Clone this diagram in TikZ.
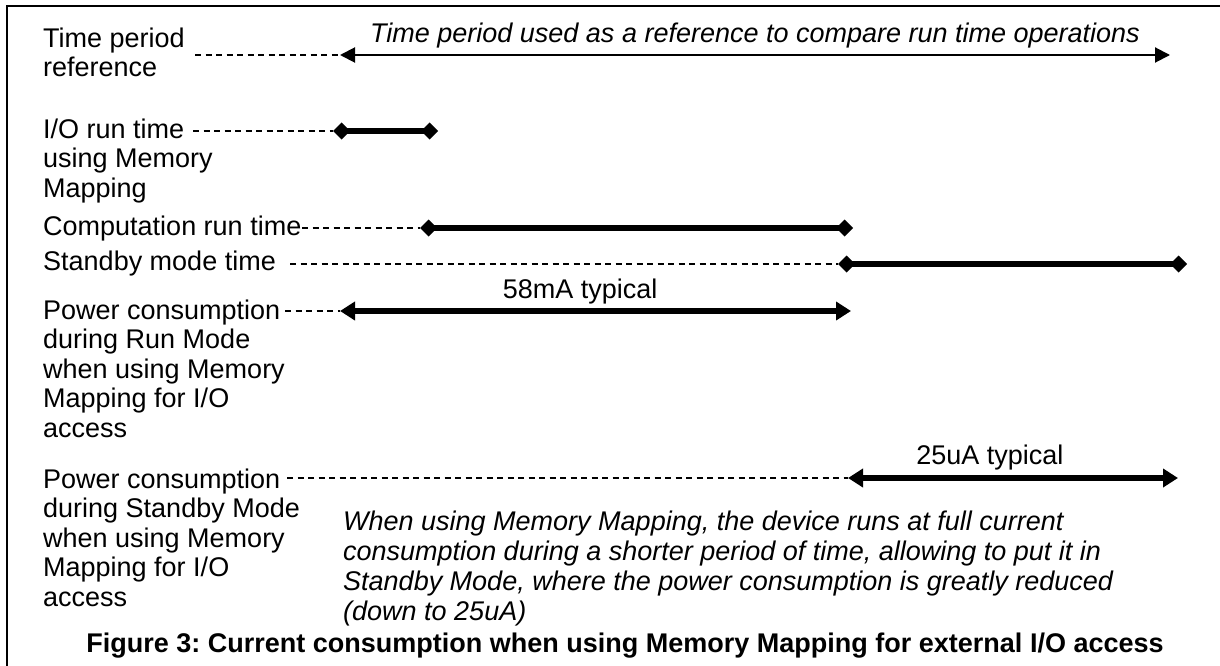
\documentclass[tikz,border=0pt]{standalone}
\usepackage{fontspec}
\setmainfont{Liberation Sans}
\frenchspacing
\usetikzlibrary{arrows.meta,positioning}

\begin{document}
\begin{tikzpicture}[x=1pt, y=-1pt,
  lbl/.style={anchor=north west, align=left, inner sep=0pt, font=\fontsize{27}{29.5}\selectfont},
  guide/.style={line width=1.3pt, dash pattern=on 6pt off 4.5pt},
  period/.style={line width=2pt, {Triangle[length=15pt,width=15pt]}-{Triangle[length=15pt,width=15pt]}},
  runbar/.style={line width=6pt, {Diamond[length=17pt,width=17pt]}-{Diamond[length=17pt,width=17pt]}},
  current/.style={line width=6pt, {Triangle[length=15pt,width=18pt]}-{Triangle[length=15pt,width=18pt]}},
  tag/.style={inner sep=0pt, font=\fontsize{27}{29.5}\selectfont}]
  \useasboundingbox (0,0) rectangle (1220,666);
  \draw[line width=2.2pt] (7,666) -- (7,6) -- (1220,6);

  \node[lbl] (tpref) at (43,27.5) {Time period\\reference};
  \node[lbl] (iorun) at (43,118.5) {I/O run time\\using Memory\\Mapping};
  \node[lbl, anchor=base west] (comprun) at (43,235) {Computation run time};
  \node[lbl, anchor=base west] (stbytime) at (43,270) {Standby mode time};
  \node[lbl] (pwrrun) at (43,299.5) {Power consumption\\during Run Mode\\when using Memory\\Mapping for I/O\\access};
  \node[lbl] (pwrstby) at (43,468.5) {Power consumption\\during Standby Mode\\when using Memory\\Mapping for I/O\\access};
  \node[lbl, font=\fontsize{27}{30}\selectfont\itshape] (note) at (343,510.5)
    {When using Memory Mapping, the device runs at full current\\consumption during a shorter period of time, allowing to put it in\\Standby Mode, where the power consumption is greatly reduced\\(down to 25uA)};
  \node[tag, anchor=base, font=\fontsize{27}{29.5}\selectfont\bfseries] (caption) at (625,652)
    {Figure 3: Current consumption when using Memory Mapping for external I/O access};

  \coordinate (tp-d) at (195,55);
  \coordinate (tp-a) at (340,55);
  \coordinate (tp-b) at (1170,55);
  \coordinate (io-d) at (193,131);
  \coordinate (io-a) at (333,131);
  \coordinate (io-b) at (438,131);
  \coordinate (cr-d) at (302,228);
  \coordinate (cr-a) at (420,228);
  \coordinate (cr-b) at (853,228);
  \coordinate (sb-d) at (290,264);
  \coordinate (sb-a) at (838,264);
  \coordinate (sb-b) at (1187,264);
  \coordinate (pr-d) at (285,311);
  \coordinate (pr-a) at (340,311);
  \coordinate (pr-b) at (851,311);
  \coordinate (ps-d) at (287,478);
  \coordinate (ps-a) at (848,478);
  \coordinate (ps-b) at (1178,478);

  \draw[guide] (tp-d) -- (tp-a);
  \draw[guide] (io-d) -- (io-a);
  \draw[guide] (cr-d) -- (cr-a);
  \draw[guide] (sb-d) -- (sb-a);
  \draw[guide] (pr-d) -- (pr-a);
  \draw[guide] (ps-d) -- (ps-a);

  \draw[period] (tp-a) -- node[tag, above=6pt, font=\fontsize{27}{29.5}\selectfont\itshape] (tpnote)
    {Time period used as a reference to compare run time operations} (tp-b);
  \draw[runbar] (io-a) -- (io-b);
  \draw[runbar] (cr-a) -- (cr-b);
  \draw[runbar] (sb-a) -- (sb-b);
  \draw[current] (pr-a) -- node[tag, above=4pt, pos=0.47] (prnote) {58mA typical} (pr-b);
  \draw[current] (ps-a) -- node[tag, above=5pt, pos=0.43] (psnote) {25uA typical} (ps-b);
\end{tikzpicture}
\end{document}
